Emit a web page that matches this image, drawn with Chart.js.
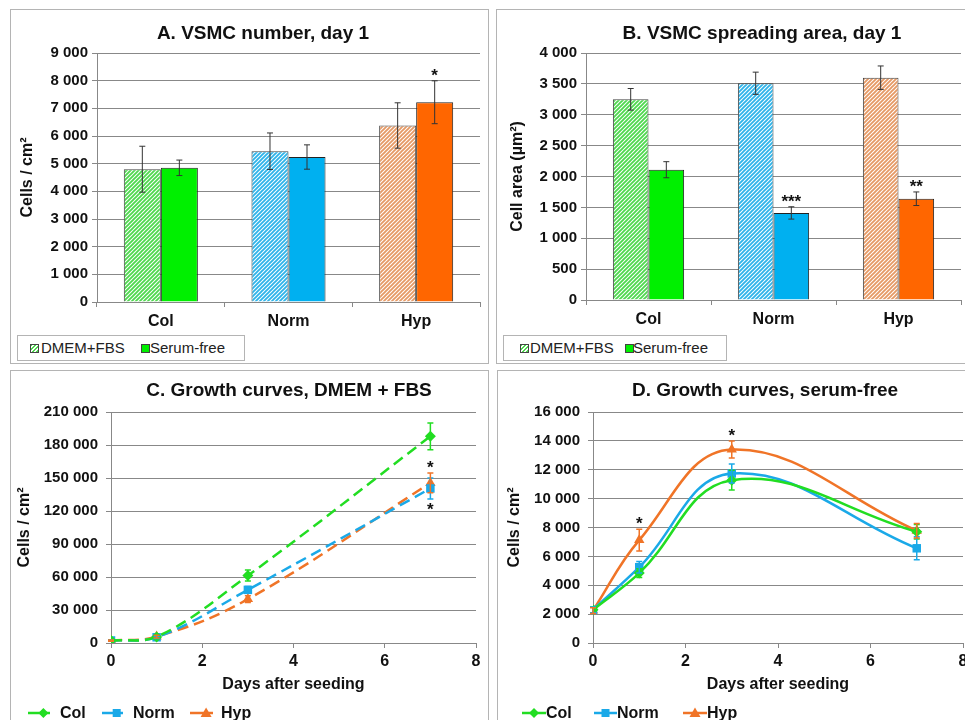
<!DOCTYPE html>
<html>
<head>
<meta charset="utf-8">
<script src="https://cdn.jsdelivr.net/npm/chart.js@4.4.1/dist/chart.umd.min.js"></script>
<style>
  body { margin: 0; width: 965px; height: 720px; overflow: hidden; background: #fff; position: relative;
         font-family: 'Liberation Sans', Arial, sans-serif; color: #111; }
  canvas { position: absolute; }
  .panel { position: absolute; border: 1px solid #b4b4b4; box-sizing: border-box; pointer-events: none; z-index: 2; }
  .title { position: absolute; width: 400px; text-align: center; font-weight: bold; font-size: 19px; line-height: 22px; z-index: 3; }
  .legbox { position: absolute; height: 26px; border: 1px solid #b4b4b4; box-sizing: border-box; background: #fff; z-index: 3; }
  .sw { position: absolute; top: 8px; width: 7px; height: 7px; border: 1px solid #444; }
  .lt { position: absolute; top: 0; font-size: 15px; line-height: 24px; color: #222; white-space: nowrap; }
  .li { position: absolute; top: 703px; height: 20px; font-size: 16px; font-weight: bold; line-height: 20px; white-space: nowrap; z-index: 3; }
  .li svg { position: absolute; top: 3px; }
</style>
</head>
<body>

<div class="panel" style="left:10px;top:9px;width:479px;height:355px"></div>
<div class="panel" style="left:496px;top:9px;width:480px;height:355px"></div>
<div class="panel" style="left:10px;top:370px;width:479px;height:360px"></div>
<div class="panel" style="left:497px;top:370px;width:480px;height:360px"></div>

<div class="title" style="left:63px;top:22px">A. VSMC number, day 1</div>
<div class="title" style="left:562px;top:22px">B. VSMC spreading area, day 1</div>
<div class="title" style="left:89px;top:379px">C. Growth curves, DMEM + FBS</div>
<div class="title" style="left:565px;top:379px">D. Growth curves, serum-free</div>

<canvas id="chartA" width="476" height="352" style="left:11px;top:10px"></canvas>
<canvas id="chartB" width="478" height="352" style="left:497px;top:10px"></canvas>
<canvas id="chartC" width="476" height="358" style="left:11px;top:371px"></canvas>
<canvas id="chartD" width="478" height="358" style="left:498px;top:371px"></canvas>

<div id="legA" class="legbox" style="left:17px;top:335px;width:228px"></div>
<div id="legB" class="legbox" style="left:503px;top:335px;width:224px"></div>
<div id="legC"></div>
<div id="legD"></div>

<script>
const categories = ['Col', 'Norm', 'Hyp'];
const barLabels = ['DMEM+FBS', 'Serum-free'];

// A. VSMC number, day 1 (cells / cm2)
const aDmem = [4800, 5450, 6380];
const aDmemErr = [830, 660, 820];
const aSerum = [4850, 5240, 7220];
const aSerumErr = [280, 440, 775];
const aSerumStars = ['', '', '*'];

// B. spreading area, day 1 (um2)
const bDmem = [3250, 3510, 3600];
const bDmemErr = [175, 180, 190];
const bSerum = [2110, 1410, 1640];
const bSerumErr = [130, 100, 110];
const bSerumStars = ['', '***', '**'];

// growth curves
const days = [0, 1, 3, 7];
const lineLabels = ['Col', 'Norm', 'Hyp'];

const cCol = [2300, 5500, 61300, 187900];
const cColErr = [500, 1200, 5000, 12200];
const cNorm = [2300, 5200, 48300, 140500];
const cNormErr = [500, 1000, 3000, 9500];
const cNormStarsBelow = ['', '', '', '*'];
const cHyp = [2200, 5800, 39900, 145500];
const cHypErr = [500, 1200, 3000, 9000];
const cHypStars = ['', '', '', '*'];

const dCol = [2300, 4840, 11280, 7710];
const dColErr = [200, 300, 680, 500];
const dNorm = [2300, 5250, 11740, 6560];
const dNormErr = [200, 400, 650, 800];
const dHyp = [2250, 7130, 13400, 7780];
const dHypErr = [200, 750, 590, 500];
const dHypStars = ['', '*', '*', ''];

// axis ranges: [min, max, step]
const aAxis = [0, 9000, 1000];
const bAxis = [0, 4000, 500];
const cAxis = [0, 210000, 30000];
const dAxis = [0, 16000, 2000];
const dayAxis = [0, 8, 2];

const solid = ['#00f000', '#00b0f0', '#ff6600'];
const stripe = ['#4fd84f', '#2fb4ea', '#e69a66'];
const lineCol = ['#22dd22', '#1aa9e8', '#f07427'];
const FONT = "'Liberation Sans', Arial, sans-serif";

function hatch(color) {
  const c = document.createElement('canvas');
  c.width = 4; c.height = 4;
  const g = c.getContext('2d');
  g.fillStyle = '#fff';
  g.fillRect(0, 0, 4, 4);
  g.strokeStyle = color;
  g.lineWidth = 1.9;
  g.beginPath();
  g.moveTo(0, 4); g.lineTo(4, 0);
  g.moveTo(-1, 1); g.lineTo(1, -1);
  g.moveTo(3, 5); g.lineTo(5, 3);
  g.stroke();
  return g.createPattern(c, 'repeat');
}

const fmt = v => String(v).replace(/\B(?=(\d{3})+(?!\d))/g, ' ');

// error bars and significance stars drawn from the data arrays
const errorBars = {
  id: 'errorBars',
  afterDatasetsDraw(chart) {
    const ctx = chart.ctx, y = chart.scales.y;
    chart.data.datasets.forEach((ds, di) => {
      if (!ds.errors) return;
      const meta = chart.getDatasetMeta(di);
      ctx.save();
      meta.data.forEach((el, i) => {
        const raw = ds.data[i];
        const v = typeof raw === 'object' ? raw.y : raw;
        const top = y.getPixelForValue(v + ds.errors[i]);
        const bottom = y.getPixelForValue(v - ds.errors[i]);
        ctx.strokeStyle = ds.errorColor;
        ctx.lineWidth = ds.errorWidth;
        ctx.beginPath();
        ctx.moveTo(el.x, top); ctx.lineTo(el.x, bottom);
        ctx.moveTo(el.x - 3, top); ctx.lineTo(el.x + 3, top);
        ctx.moveTo(el.x - 3, bottom); ctx.lineTo(el.x + 3, bottom);
        ctx.stroke();
        ctx.fillStyle = '#111';
        ctx.font = 'bold 17px ' + FONT;
        ctx.textAlign = 'center';
        ctx.textBaseline = 'alphabetic';
        if (ds.starsAbove && ds.starsAbove[i]) ctx.fillText(ds.starsAbove[i], el.x, top);
        if (ds.starsBelow && ds.starsBelow[i]) ctx.fillText(ds.starsBelow[i], el.x, bottom + 16);
      });
      ctx.restore();
    });
  }
};

function scales(o) {
  const x = o.linearX ? {
    type: 'linear', min: dayAxis[0], max: dayAxis[1],
    ticks: { stepSize: dayAxis[2], font: { size: 16, weight: 'bold', family: FONT }, color: '#111', padding: 3.5 },
    grid: { drawOnChartArea: false, tickLength: 5, color: '#888' },
    border: { color: '#888' },
    title: { display: true, text: 'Days after seeding', color: '#111', font: { size: 16, weight: 'bold', family: FONT }, padding: { top: 4, bottom: 4 } },
    afterFit: s => { s.height = o.xHeight; }
  } : {
    ticks: { font: { size: 16, weight: 'bold', family: FONT }, color: '#111', padding: 5 },
    grid: { drawOnChartArea: false, tickLength: 5, color: '#888' },
    border: { color: '#888' },
    afterFit: s => { s.height = o.xHeight; }
  };
  return {
    x,
    y: {
      min: o.axis[0], max: o.axis[1],
      ticks: { stepSize: o.axis[2], callback: fmt, font: { size: 15, weight: 'bold', family: FONT }, color: '#111', padding: o.tickPad },
      grid: { color: '#888', tickLength: 5 },
      border: { color: '#888' },
      title: { display: true, text: o.yTitle, color: '#111', font: { size: 16, weight: 'bold', family: FONT }, padding: { top: o.titlePad, bottom: 0 } },
      afterFit: s => { s.width = o.yWidth; }
    }
  };
}

function barChart(id, dmem, dmemErr, serum, serumErr, stars, axis, yTitle, layout) {
  new Chart(document.getElementById(id), {
    type: 'bar',
    data: {
      labels: categories,
      datasets: [
        { label: barLabels[0], data: dmem, backgroundColor: stripe.map(hatch), borderColor: '#444', borderWidth: 1,
          errors: dmemErr, errorColor: '#333', errorWidth: 1 },
        { label: barLabels[1], data: serum, backgroundColor: solid, borderColor: '#222', borderWidth: 1,
          errors: serumErr, errorColor: '#333', errorWidth: 1, starsAbove: stars }
      ]
    },
    options: {
      responsive: false, animation: false,
      layout: { padding: layout.padding },
      datasets: { bar: { categoryPercentage: layout.cat, barPercentage: 1 } },
      plugins: { legend: { display: false }, tooltip: { enabled: false } },
      scales: scales({ axis, yTitle, yWidth: layout.yWidth, tickPad: 4, titlePad: layout.titlePad, xHeight: 30 })
    },
    plugins: [errorBars]
  });
}

function lineChart(id, series, errs, above, below, dashed, axis, layout) {
  const shapes = ['rectRot', 'rect', 'triangle'];
  const radius = [5.5, 6, 6];
  new Chart(document.getElementById(id), {
    type: 'line',
    data: {
      datasets: series.map((vals, k) => ({
        label: lineLabels[k],
        data: vals.map((v, i) => ({ x: days[i], y: v })),
        borderColor: lineCol[k], backgroundColor: lineCol[k],
        borderWidth: 2.5, borderDash: dashed ? [11, 6] : [],
        pointStyle: shapes[k], pointRadius: radius[k], pointBorderWidth: 0,
        tension: 0.4,
        errors: errs[k], errorColor: lineCol[k], errorWidth: 1.5,
        starsAbove: above[k], starsBelow: below[k]
      }))
    },
    options: {
      responsive: false, animation: false,
      layout: { padding: layout.padding },
      plugins: { legend: { display: false }, tooltip: { enabled: false } },
      scales: scales({ axis, yTitle: 'Cells / cm²', yWidth: layout.yWidth, tickPad: 8, titlePad: layout.titlePad, xHeight: 55, linearX: true })
    },
    plugins: [errorBars]
  });
}

barChart('chartA', aDmem, aDmemErr, aSerum, aSerumErr, aSerumStars, aAxis, 'Cells / cm²',
  { padding: { top: 43, right: 7, bottom: 30, left: 0 }, yWidth: 86, titlePad: 7.4, cat: 0.58 });
barChart('chartB', bDmem, bDmemErr, bSerum, bSerumErr, bSerumStars, bAxis, 'Cell area (µm²)',
  { padding: { top: 43, right: 14, bottom: 32, left: 0 }, yWidth: 89, titlePad: 11.4, cat: 0.57 });
lineChart('chartC', [cCol, cNorm, cHyp], [cColErr, cNormErr, cHypErr], [null, null, cHypStars], [null, cNormStarsBelow, null], true, cAxis,
  { padding: { top: 41, right: 11, bottom: 31, left: 0 }, yWidth: 100, titlePad: 4.4 });
lineChart('chartD', [dCol, dNorm, dHyp], [dColErr, dNormErr, dHypErr], [null, null, dHypStars], [null, null, null], false, dAxis,
  { padding: { top: 41, right: 13, bottom: 31, left: 0 }, yWidth: 95, titlePad: 7.4 });

// legends
function barLegend(id, pos) {
  const el = document.getElementById(id);
  el.innerHTML =
    `<span class="sw" style="left:${pos[0]}px;background:repeating-linear-gradient(135deg,${stripe[0]} 0 1.3px,#fff 1.3px 2.8px)"></span>` +
    `<span class="lt" style="left:${pos[1]}px">${barLabels[0]}</span>` +
    `<span class="sw" style="left:${pos[2]}px;background:${solid[0]}"></span>` +
    `<span class="lt" style="left:${pos[3]}px">${barLabels[1]}</span>`;
}
barLegend('legA', [12, 23, 123, 132]);
barLegend('legB', [16, 26, 121, 129]);

function marker(k, cx) {
  const c = lineCol[k];
  if (k === 0) return `<polygon points="${cx},2 ${cx + 5},7 ${cx},12 ${cx - 5},7" fill="${c}"/>`;
  if (k === 1) return `<rect x="${cx - 4}" y="3" width="8" height="8" fill="${c}"/>`;
  return `<polygon points="${cx},1.5 ${cx + 5.5},11 ${cx - 5.5},11" fill="${c}"/>`;
}
function lineLegend(id, items, markerAt) {
  const el = document.getElementById(id);
  el.innerHTML = items.map((it, k) =>
    `<div class="li" style="left:${it[0]}px;width:80px">` +
    `<svg width="${it[1]}" height="14"><line x1="0" y1="7" x2="${it[1]}" y2="7" stroke="${lineCol[k]}" stroke-width="2.5"/>${marker(k, it[1] * markerAt)}</svg>` +
    `<span style="position:absolute;left:${it[2]}px">${lineLabels[k]}</span></div>`).join('');
}
lineLegend('legC', [[28, 22, 32], [102, 21, 31], [190, 23, 31]], 0.7);
lineLegend('legD', [[522, 24, 24], [594, 23, 23], [683, 24, 24]], 0.5);
</script>
</body>
</html>
